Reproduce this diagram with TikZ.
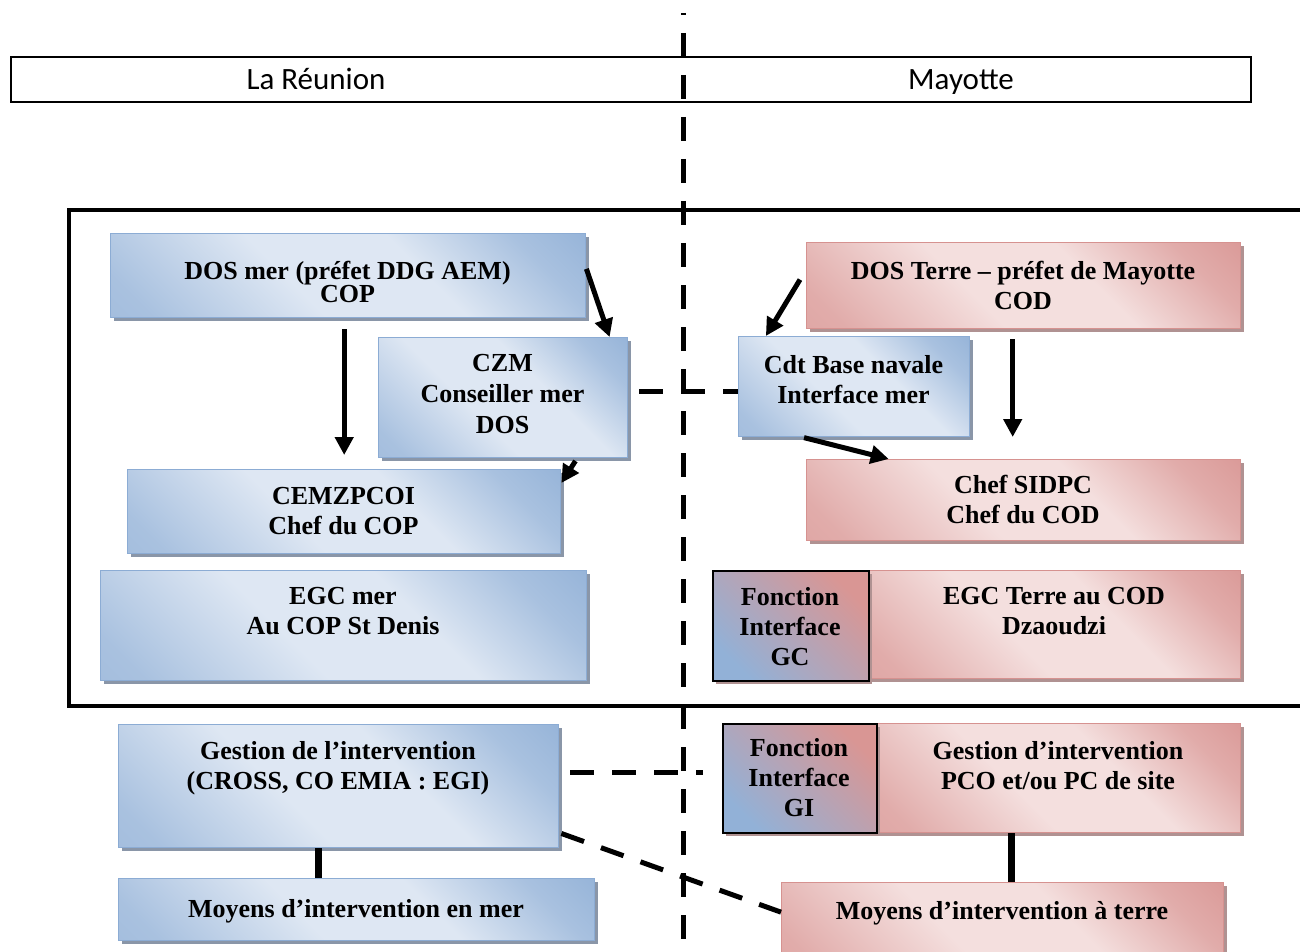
\documentclass[tikz,border=0pt]{standalone}
\usepackage{fontspec}
\setmainfont{Liberation Serif}
\newfontfamily\headfont{Carlito}
\usetikzlibrary{arrows.meta,calc,shadows}

% palette
\definecolor{bdark}{RGB}{146,177,215}
\definecolor{blight}{RGB}{222,231,243}
\definecolor{bedge}{RGB}{140,172,212}
\definecolor{bshadow}{RGB}{138,150,168}
\definecolor{pdark}{RGB}{217,150,148}
\definecolor{plight}{RGB}{244,223,222}
\definecolor{pedge}{RGB}{214,146,144}
\definecolor{pshadow}{RGB}{176,146,146}

% diagonal fills of the panels
\pgfdeclarehorizontalshading{seashade}{100bp}{color(0bp)=(bdark!92!blight); color(20bp)=(bdark!70!blight); color(42bp)=(blight); color(60bp)=(blight); color(76bp)=(bdark!70!blight); color(88bp)=(bdark); color(100bp)=(bdark)}
\pgfdeclarehorizontalshading{landshade}{100bp}{color(0bp)=(pdark!92!plight); color(20bp)=(pdark!70!plight); color(42bp)=(plight); color(60bp)=(plight); color(76bp)=(pdark!70!plight); color(88bp)=(pdark); color(100bp)=(pdark)}
\pgfdeclarehorizontalshading{linkshade}{100bp}{color(0bp)=(bdark); color(25bp)=(bdark); color(75bp)=(pdark); color(100bp)=(pdark)}

\newcommand\lblfont{\bfseries\fontsize{13}{15}\selectfont}
\newcommand\tightfont{\bfseries\fontsize{13}{11.5}\selectfont\lineskiplimit=-20pt\relax}
\newcommand\headsize{\headfont\fontsize{15.5}{18}\selectfont}

\tikzset{
  panel/.style={anchor=north west, inner sep=0pt, line width=0.7pt},
  sz/.style 2 args={minimum width=#1*0.5pt, minimum height=#2*0.5pt},
  sea/.style={panel, draw=bedge, shade, shading=seashade, shading angle=45,
    drop shadow={shadow xshift=1.7pt, shadow yshift=-1.7pt, fill=bshadow, opacity=1}},
  land/.style={panel, draw=pedge, shade, shading=landshade, shading angle=45,
    drop shadow={shadow xshift=1.7pt, shadow yshift=-1.7pt, fill=pshadow, opacity=1}},
  bridge/.style={panel, draw=black, line width=1pt, shade, shading=linkshade, shading angle=45,
    drop shadow={shadow xshift=1.7pt, shadow yshift=-1.7pt, fill=pshadow, opacity=1}},
  lbl/.style={anchor=north, inner sep=0pt, align=center, font=\lblfont,
    execute at begin node={\rule{0pt}{10pt}}},
  headlbl/.style={anchor=base, inner sep=0pt, font=\headsize},
  arr/.style={line width=2.5pt, -{Triangle[length=9pt,width=9pt]}},
  dashlink/.style={line width=2.5pt, dash pattern=on 12pt off 9pt},
  tie/.style={line width=3.5pt},
}

\begin{document}
\begin{tikzpicture}[x=0.5pt, y=-0.5pt]
\useasboundingbox (0,0) rectangle (1300,952);

% heading row
\node[panel, draw=black, line width=0.8pt, fill=white, sz={1240}{45}] (head) at (10,56) {};
\node[headlbl] (head-re) at (316,89.5) {La Réunion};
\node[headlbl] (head-ma) at (961,89.5) {Mayotte};

% crisis management frame
\draw[line width=2pt] (1320,210) -- (69,210) -- (69,706) -- (1320,706);

% dividing line between the two territories
\draw[line width=2.5pt, dash pattern=on 12pt off 9pt, dash phase=11pt] (683,13) -- (683,960);

% ---- La Réunion side
\node[sea, sz={475}{84}] (dosmer) at (110,233) {};
\node[lbl, font=\tightfont] (t-dosmer) at (347.5,260.6) {DOS mer (préfet DDG AEM)\\COP};

\node[sea, sz={249}{120}] (czm) at (378,337) {};
\node[lbl, font=\lblfont\fontsize{13}{15.5}\selectfont] (t-czm) at (502.5,353.6) {CZM\\Conseiller mer\\DOS};

\node[sea, sz={433}{84}] (cemz) at (127,469) {};
\node[lbl] (t-cemz) at (343.5,486.6) {CEMZPCOI\\Chef du COP};

\node[sea, sz={486}{110}] (egcmer) at (100,570) {};
\node[lbl] (t-egcmer) at (343,586.6) {EGC mer\\Au COP St Denis};

\node[sea, sz={440}{123}] (gestmer) at (118,724) {};
\node[lbl] (t-gestmer) at (338,740.6) {Gestion de l’intervention\\(CROSS, CO EMIA : EGI)};

\node[sea, sz={476}{62}] (moymer) at (118,878) {};
\node[lbl] (t-moymer) at (356,896.6) {Moyens d’intervention en mer};

% ---- Mayotte side
\node[land, sz={434}{86}] (dosterre) at (806,242) {};
\node[lbl] (t-dosterre) at (1023,260.6) {DOS Terre – préfet de Mayotte\\COD};

\node[sea, sz={231}{100}] (cdt) at (738,336) {};
\node[lbl] (t-cdt) at (853.5,354.6) {Cdt Base navale\\Interface mer};

\node[land, sz={434}{81}] (sidpc) at (806,459) {};
\node[lbl] (t-sidpc) at (1023,474.6) {Chef SIDPC\\Chef du COD};

\node[land, sz={372}{108}] (egcterre) at (868,570) {};
\node[lbl] (t-egcterre) at (1054,586.6) {EGC Terre au COD\\Dzaoudzi};

\node[bridge, sz={156}{110}] (fgc) at (712,570) {};
\node[lbl] (t-fgc) at (790,586.6) {Fonction\\Interface\\GC};

\node[land, sz={364}{109}] (gestterre) at (876,723) {};
\node[lbl] (t-gestterre) at (1058,740.6) {Gestion d’intervention\\PCO et/ou PC de site};

\node[bridge, sz={154}{109}] (fgi) at (722,723) {};
\node[lbl] (t-fgi) at (799,737.6) {Fonction\\Interface\\GI};

\node[land, sz={442}{90}] (moyterre) at (781,882) {};
\node[lbl] (t-moyterre) at (1002,898.6) {Moyens d’intervention à terre};

% ---- command arrows
\draw[arr, shorten <=5.5pt, shorten >=7pt] (cemz.north |- dosmer.south) -- (cemz.north);
\draw[arr] ($(dosmer.north east)!0.42!(dosmer.south east)$) -- ($(czm.north west)!0.925!(czm.north east)$);
\draw[arr, shorten <=1.5pt] ($(czm.south west)!0.795!(czm.south east)$) -- ([yshift=-7pt]cemz.north east);
\draw[arr] ([xshift=-3pt]$(dosterre.north west)!0.43!(dosterre.south west)$) -- ($(cdt.north west)!0.12!(cdt.north east)$);
\draw[arr, shorten <=5pt, shorten >=11pt] ([xshift=-5.5pt]dosterre.south) -- ([xshift=-5.5pt]dosterre.south |- sidpc.north);
\draw[arr, shorten <=0.5pt] ($(cdt.south west)!0.28!(cdt.south east)$) -- ($(sidpc.north west)!0.19!(sidpc.north east)$);

% ---- coordination links
\draw[dashlink] ([xshift=5.5pt,yshift=3pt]czm.east) -- ([yshift=3pt]czm.east -| cdt.west);
\draw[dashlink, shorten >=9.5pt] ([xshift=5.5pt,yshift=6.75pt]gestmer.east) -- ([yshift=6.75pt]gestmer.east -| fgi.west);
\draw[dashlink] ([xshift=1pt]$(gestmer.north east)!0.88!(gestmer.south east)$) -- ($(moyterre.north west)!0.33!(moyterre.south west)$);

% ---- links to the means
\coordinate (sea-foot) at ($(gestmer.south west)!0.454!(gestmer.south east)$);
\coordinate (land-foot) at ($(gestterre.south west)!0.37!(gestterre.south east)$);
\draw[tie] (sea-foot) -- (sea-foot |- moymer.north);
\draw[tie] (land-foot) -- (land-foot |- moyterre.north);
\end{tikzpicture}
\end{document}
